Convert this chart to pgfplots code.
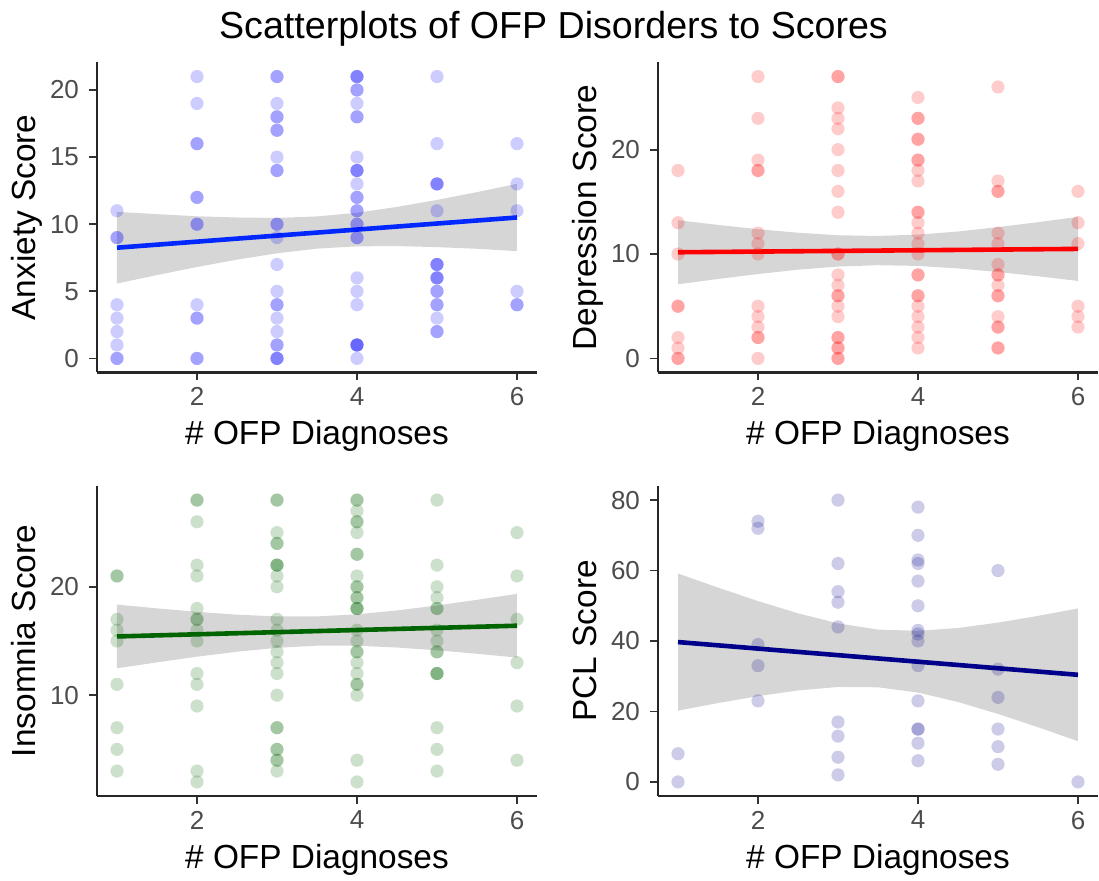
\documentclass[border=0pt]{standalone}
\usepackage{fontspec}
\setmainfont{Liberation Sans}
\usepackage{pgfplots}
\pgfplotsset{compat=1.18}
\definecolor{bandgray}{RGB}{153,153,153}
\definecolor{ablue}{RGB}{0,40,255}
\definecolor{dgreen}{RGB}{0,100,0}
\definecolor{navyb}{RGB}{0,0,139}
\pgfplotsset{
  panel/.style={
    scale only axis, width=220pt, height=155pt,
    axis x line*=bottom, axis y line*=left,
    xmin=0.75, xmax=6.25, xtick={2,4,6},
    tick align=outside, major tick length=4pt, minor tick num=0,
    tick style={line width=0.9pt, color=black!80},
    axis line style={line width=1.1pt, color=black!85},
    tick label style={font=\fontsize{13}{15}\selectfont, color=black!70},
    yticklabel style={xshift=-1.5pt},
    label style={font=\fontsize{16.7}{19}\selectfont},
    /pgf/number format/assume math mode=true,
    xlabel={\# OFP Diagnoses},
    xlabel style={at={(axis description cs:0.5,-0.2323)}, anchor=base},
    ylabel style={at={(axis description cs:-0.1409,0.5)}, anchor=base},
    clip=false,
  },
  pts/.style={only marks, draw=none, color=#1, mark=*, mark size=3.3pt,
    mark options={draw=none, draw opacity=0, fill=#1, fill opacity=0.2}},
  band/.style={draw=none, fill=bandgray, fill opacity=0.4},
  fit/.style={line width=2.3pt, color=#1},
}
\begin{document}
\begin{tikzpicture}
\useasboundingbox (0,0) rectangle (549.5pt,-440.5pt);
\node[anchor=base, font=\fontsize{18.8}{22}\selectfont] at (276.75pt,-19.3pt) {Scatterplots of OFP Disorders to Scores};

% Anxiety
\begin{axis}[panel, at={(48.5pt,-186.25pt)}, anchor=south west,
  ymin=-1.05, ymax=22.05, ytick={0,5,10,15,20}, ylabel={Anxiety Score}]
\addplot[pts=blue] coordinates {
(1,11)(1,9)(1,9)(1,4)(1,3)(1,2)(1,1)(1,0)(1,0)
(2,21)(2,19)(2,16)(2,16)(2,12)(2,12)(2,10)(2,10)(2,4)(2,3)(2,3)(2,0)(2,0)
(3,21)(3,21)(3,19)(3,18)(3,18)(3,17)(3,17)(3,15)(3,14)(3,14)(3,10)(3,10)(3,9)(3,7)(3,5)(3,4)(3,4)(3,3)(3,2)(3,1)(3,1)(3,0)(3,0)(3,0)
(4,21)(4,21)(4,21)(4,20)(4,20)(4,19)(4,18)(4,18)(4,15)(4,14)(4,14)(4,14)(4,13)(4,12)(4,12)(4,11)(4,11)(4,10)(4,10)(4,9)(4,9)(4,6)(4,5)(4,4)(4,1)(4,1)(4,1)(4,1)(4,0)
(5,21)(5,16)(5,13)(5,13)(5,13)(5,11)(5,7)(5,7)(5,7)(5,6)(5,6)(5,6)(5,5)(5,5)(5,4)(5,4)(5,3)(5,2)(5,2)
(6,16)(6,13)(6,11)(6,5)(6,4)(6,4)
};
\addplot[band] coordinates {
(1,10.92)(1.5,10.75)(2,10.59)(2.5,10.50)(3,10.47)(3.5,10.58)(4,10.85)(4.5,11.29)(5,11.81)(5.5,12.39)(6,13.01)
(6,7.99)(5.5,8.17)(5,8.29)(4.5,8.37)(4,8.35)(3.5,8.18)(3,7.83)(2.5,7.36)(2,6.81)(1.5,6.21)(1,5.58)} -- cycle;
\addplot[fit=ablue] coordinates {(1,8.25)(6,10.5)};
\end{axis}

% Depression
\begin{axis}[panel, at={(329pt,-186.25pt)}, anchor=south west,
  ymin=-1.35, ymax=28.35, ytick={0,10,20}, ylabel={Depression Score}]
\addplot[pts=red] coordinates {
(1,18)(1,13)(1,10)(1,5)(1,5)(1,2)(1,1)(1,0)(1,0)
(2,27)(2,23)(2,19)(2,18)(2,18)(2,12)(2,11)(2,10)(2,5)(2,4)(2,3)(2,2)(2,2)(2,0)
(3,27)(3,27)(3,24)(3,23)(3,22)(3,20)(3,18)(3,16)(3,14)(3,10)(3,10)(3,8)(3,7)(3,6)(3,6)(3,5)(3,4)(3,2)(3,2)(3,1)(3,1)(3,0)(3,0)
(4,25)(4,23)(4,23)(4,21)(4,21)(4,19)(4,19)(4,18)(4,17)(4,14)(4,14)(4,13)(4,12)(4,11)(4,10)(4,8)(4,8)(4,6)(4,6)(4,5)(4,4)(4,3)(4,2)(4,1)
(5,26)(5,17)(5,16)(5,16)(5,12)(5,11)(5,9)(5,8)(5,8)(5,7)(5,6)(5,6)(5,4)(5,3)(5,3)(5,1)(5,1)
(6,16)(6,13)(6,11)(6,5)(6,4)(6,3)
};
\addplot[band] coordinates {
(1,13.24)(1.5,12.79)(2,12.38)(2.5,12.04)(3,11.80)(3.5,11.73)(4,11.86)(4.5,12.16)(5,12.58)(5.5,13.05)(6,13.56)
(6,7.42)(5.5,7.87)(5,8.28)(4.5,8.62)(4,8.86)(3.5,8.93)(3,8.80)(2.5,8.50)(2,8.08)(1.5,7.61)(1,7.10)} -- cycle;
\addplot[fit=red] coordinates {(1,10.17)(6,10.49)};
\end{axis}

% Insomnia
\begin{axis}[panel, at={(48.5pt,-398pt)}, anchor=south west,
  ymin=0.7, ymax=29.3, ytick={10,20}, ylabel={Insomnia Score}]
\addplot[pts=dgreen] coordinates {
(1,21)(1,21)(1,17)(1,16)(1,15)(1,11)(1,7)(1,5)(1,3)
(2,28)(2,28)(2,26)(2,22)(2,21)(2,18)(2,17)(2,17)(2,16)(2,15)(2,12)(2,11)(2,9)(2,3)(2,2)
(3,28)(3,28)(3,25)(3,24)(3,24)(3,22)(3,22)(3,22)(3,21)(3,20)(3,17)(3,16)(3,15)(3,14)(3,13)(3,12)(3,10)(3,7)(3,7)(3,5)(3,5)(3,4)(3,4)(3,3)
(4,28)(4,28)(4,27)(4,26)(4,26)(4,25)(4,23)(4,23)(4,21)(4,20)(4,20)(4,19)(4,19)(4,18)(4,18)(4,18)(4,16)(4,15)(4,14)(4,14)(4,13)(4,12)(4,11)(4,11)(4,10)(4,4)(4,2)
(5,28)(5,22)(5,20)(5,19)(5,18)(5,18)(5,16)(5,15)(5,14)(5,14)(5,12)(5,12)(5,12)(5,7)(5,5)(5,3)
(6,25)(6,21)(6,17)(6,13)(6,9)(6,4)
};
\addplot[band] coordinates {
(1,18.36)(1.5,18.01)(2,17.69)(2.5,17.43)(3,17.27)(3.5,17.27)(4,17.46)(4.5,17.82)(5,18.28)(5.5,18.80)(6,19.35)
(6,13.47)(5.5,13.82)(5,14.14)(4.5,14.40)(4,14.56)(3.5,14.57)(3,14.37)(2.5,14.01)(2,13.55)(1.5,13.03)(1,12.48)} -- cycle;
\addplot[fit=dgreen] coordinates {(1,15.42)(6,16.41)};
\end{axis}

% PCL
\begin{axis}[panel, at={(329pt,-398pt)}, anchor=south west,
  ymin=-4, ymax=84, ytick={0,20,40,60,80}, ylabel={PCL Score}]
\addplot[pts=navyb] coordinates {
(1,8)(1,0)
(2,74)(2,72)(2,39)(2,33)(2,23)
(3,80)(3,62)(3,54)(3,51)(3,44)(3,17)(3,13)(3,7)(3,2)
(4,78)(4,70)(4,63)(4,62)(4,57)(4,50)(4,43)(4,42)(4,40)(4,33)(4,23)(4,15)(4,15)(4,11)(4,6)
(5,60)(5,32)(5,24)(5,15)(5,10)(5,5)
(6,0)
};
\addplot[band] coordinates {
(1,59.17)(1.5,55.16)(2,51.34)(2.5,47.86)(3,45.01)(3.5,43.24)(4,42.88)(4.5,43.69)(5,45.22)(5.5,47.13)(6,49.24)
(6,11.56)(5.5,15.53)(5,19.30)(4.5,22.69)(4,25.36)(3.5,26.86)(3,26.95)(2.5,25.96)(2,24.34)(1.5,22.38)(1,20.23)} -- cycle;
\addplot[fit=navyb] coordinates {(1,39.7)(6,30.4)};
\end{axis}
\end{tikzpicture}
\end{document}
